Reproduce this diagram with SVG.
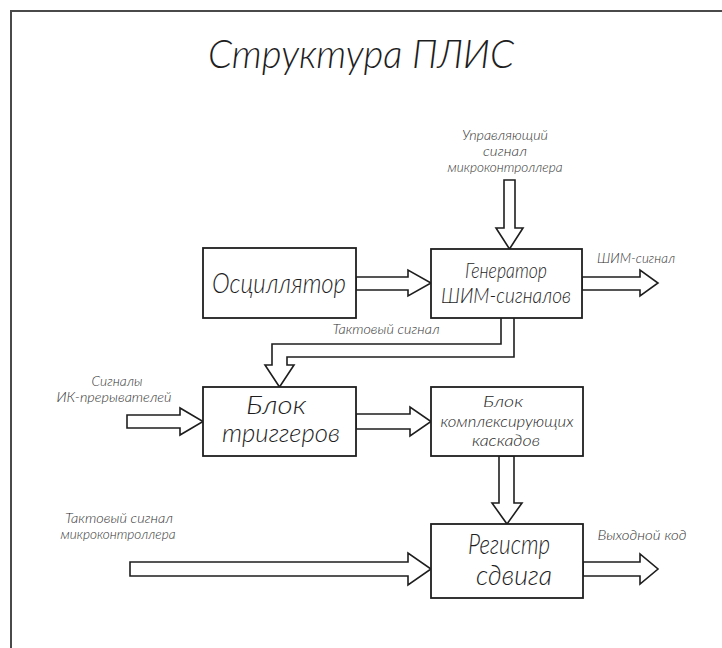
<svg xmlns="http://www.w3.org/2000/svg" width="722" height="648" viewBox="0 0 722 648">
<defs>
<style>
text{font-family:Lato,"Open Sans","DejaVu Sans Condensed",sans-serif;font-style:italic;font-weight:300;fill:#1e1e1e;text-anchor:middle}
.t{font-size:40px}
.big{font-size:28px}
.mid{font-size:22px}
.blk{font-size:25px}
.sm{font-size:16px}
.lab{font-size:13px;fill:#333}
.box{fill:#fff;stroke:#1e1e1e;stroke-width:1.8}
.arr{fill:#fff;stroke:#1e1e1e;stroke-width:1.6;stroke-linejoin:miter}
.frame{fill:none;stroke:#4a4a4a;stroke-width:2}
</style>
</defs>
<rect width="722" height="648" fill="#fff"/>
<path class="frame" d="M11,648 V11 H722"/>
<text class="t" x="361" y="68" textLength="306" lengthAdjust="spacingAndGlyphs">Структура ПЛИС</text>

<g id="connectors">
<polygon class="arr" points="356,277 408,277 408,270 431,283 408,296 408,290 356,290"/>
<polygon class="arr" points="582,277 640,277 640,270 658,283 640,296 640,290 582,290"/>
<polygon class="arr" points="504,180 515,180 515,228 523,228 509.5,249 496,228 504,228"/>
<polyline class="arr" points="514,318 514,357 287,357 287,365 294,365 279.5,387 265,365 272,365 272,344 501,344 501,318"/>
<polygon class="arr" points="127,415 180,415 180,408 203,421.5 180,435 180,428 127,428"/>
<polygon class="arr" points="356,414 410,414 410,407 431,421.5 410,436 410,429 356,429"/>
<polygon class="arr" points="499,456 499,503 492,503 507,524 522,503 514,503 514,456"/>
<polygon class="arr" points="130,562 408,562 408,553 431,569 408,585 408,576 130,576"/>
<polygon class="arr" points="583,562 640,562 640,554 658,569 640,584 640,576 583,576"/>
</g>

<g id="labels">
<text class="lab" x="505" y="140" textLength="86" lengthAdjust="spacingAndGlyphs">Управляющий</text>
<text class="lab" x="505" y="156" textLength="44" lengthAdjust="spacingAndGlyphs">сигнал</text>
<text class="lab" x="505" y="172" textLength="115" lengthAdjust="spacingAndGlyphs">микроконтроллера</text>
<text class="lab" x="636" y="263" textLength="78" lengthAdjust="spacingAndGlyphs">ШИМ-сигнал</text>
<text class="lab" x="386" y="334" textLength="107" lengthAdjust="spacingAndGlyphs">Тактовый сигнал</text>
<text class="lab" x="117" y="386" textLength="51" lengthAdjust="spacingAndGlyphs">Сигналы</text>
<text class="lab" x="114" y="402" textLength="115" lengthAdjust="spacingAndGlyphs">ИК-прерывателей</text>
<text class="lab" x="119" y="523" textLength="108" lengthAdjust="spacingAndGlyphs">Тактовый сигнал</text>
<text class="lab" x="118" y="539" textLength="115" lengthAdjust="spacingAndGlyphs">микроконтроллера</text>
<text class="lab" x="642" y="540" textLength="89" lengthAdjust="spacingAndGlyphs">Выходной код</text>
</g>

<g id="oscillator">
<rect class="box" x="203" y="248" width="153" height="70"/>
<text class="big" x="279" y="293" textLength="134" lengthAdjust="spacingAndGlyphs">Осциллятор</text>
</g>
<g id="pwm-generator">
<rect class="box" x="431" y="249" width="151" height="69"/>
<text class="mid" x="506" y="278" textLength="82" lengthAdjust="spacingAndGlyphs">Генератор</text>
<text class="mid" x="506" y="303" textLength="130" lengthAdjust="spacingAndGlyphs">ШИМ-сигналов</text>
</g>
<g id="trigger-block">
<rect class="box" x="203" y="387" width="153" height="69"/>
<text class="blk" x="276" y="414" textLength="60" lengthAdjust="spacingAndGlyphs">Блок</text>
<text class="blk" x="281" y="442" textLength="118" lengthAdjust="spacingAndGlyphs">триггеров</text>
</g>
<g id="multiplex-block">
<rect class="box" x="431" y="387" width="152" height="69"/>
<text class="sm" x="503" y="407" textLength="40" lengthAdjust="spacingAndGlyphs">Блок</text>
<text class="sm" x="507" y="427" textLength="133" lengthAdjust="spacingAndGlyphs">комплексирующих</text>
<text class="sm" x="506" y="446" textLength="68" lengthAdjust="spacingAndGlyphs">каскадов</text>
</g>
<g id="shift-register">
<rect class="box" x="431" y="524" width="152" height="74"/>
<text class="big" x="509" y="554" textLength="82" lengthAdjust="spacingAndGlyphs">Регистр</text>
<text class="big" x="514" y="585" textLength="76" lengthAdjust="spacingAndGlyphs">сдвига</text>
</g>
</svg>
